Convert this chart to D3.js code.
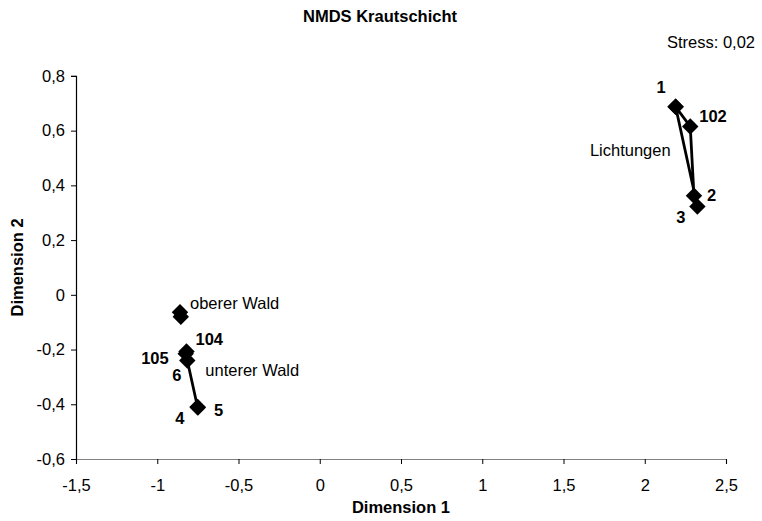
<!DOCTYPE html>
<html>
<head>
<meta charset="utf-8">
<script src="https://cdn.jsdelivr.net/npm/d3@7"></script>
<style>
  body { margin: 0; background: #fff; }
  svg text { font-family: "Liberation Sans", Arial, sans-serif; fill: #000; }
</style>
</head>
<body>
<svg id="chart" width="762" height="521"></svg>
<script>
const xTicks = [-1.5, -1, -0.5, 0, 0.5, 1, 1.5, 2, 2.5]
const yTicks = [-0.6, -0.4, -0.2, 0, 0.2, 0.4, 0.6, 0.8]

// sites per group: name, dimension 1, dimension 2 (drawn in this order, line joins them)
const lichtungenSites = ['1', '102', '2', '3', '1']
const lichtungenDim1 = [2.19, 2.28, 2.303, 2.324, 2.19]
const lichtungenDim2 = [0.687, 0.615, 0.362, 0.323, 0.687]

const obererSites = ['oben a', 'oben b']
const obererDim1 = [-0.86, -0.855]
const obererDim2 = [-0.064, -0.08]

const untererSites = ['104', '105', '6', '4', '5']
const untererDim1 = [-0.82, -0.825, -0.815, -0.752, -0.75]
const untererDim2 = [-0.207, -0.215, -0.24, -0.41, -0.412]

const groupNames = ['Lichtungen', 'oberer Wald', 'unterer Wald']

const width = 762
const height = 521
const margin = { left: 76, right: 36, top: 76, bottom: 62 }
const fontSize = '16.5px'

const svg = d3.select('#chart')

const x = d3.scaleLinear()
  .domain([-1.5, 2.5])
  .range([margin.left, width - margin.right])

const y = d3.scaleLinear()
  .domain([-0.6, 0.8])
  .range([height - margin.bottom, margin.top - 0.1])

const fmt = d => d3.format('')(d).replace('.', ',').replace('−', '-')

const xAxis = svg.append('g')
  .attr('transform', `translate(0,${y(-0.6)})`)
  .call(d3.axisBottom(x).tickValues(xTicks).tickFormat(fmt).tickSize(5).tickPadding(15))
xAxis.select('.domain').attr('stroke', '#808080').attr('stroke-width', 1.2)
xAxis.selectAll('.tick line').attr('stroke', '#000')
xAxis.selectAll('text').style('font-size', fontSize).attr('fill', '#000')

const yAxis = svg.append('g')
  .attr('transform', `translate(${x(-1.5)},0)`)
  .call(d3.axisLeft(y).tickValues(yTicks).tickFormat(fmt).tickSize(5).tickPadding(6))
yAxis.select('.domain').attr('stroke', '#000').attr('stroke-width', 1.2)
yAxis.selectAll('text').style('font-size', fontSize).attr('fill', '#000')

const groups = [
  { name: groupNames[0], sites: lichtungenSites, d1: lichtungenDim1, d2: lichtungenDim2 },
  { name: groupNames[1], sites: obererSites, d1: obererDim1, d2: obererDim2 },
  { name: groupNames[2], sites: untererSites, d1: untererDim1, d2: untererDim2 }
].map(g => ({ name: g.name, points: g.sites.map((s, i) => ({ site: s, d1: g.d1[i], d2: g.d2[i] })) }))

const line = d3.line()
  .x(d => x(d.d1))
  .y(d => y(d.d2))

svg.append('g').selectAll('path')
  .data(groups)
  .enter()
  .append('path')
  .attr('d', d => line(d.points))
  .attr('fill', 'none')
  .attr('stroke', '#000')
  .attr('stroke-width', 2.8)

const diamond = d3.symbol(d3.symbolSquare).size(135)

svg.append('g').selectAll('path')
  .data(groups.flatMap(g => g.points))
  .enter()
  .append('path')
  .attr('d', diamond)
  .attr('transform', d => `translate(${x(d.d1)},${y(d.d2)}) rotate(45)`)
  .attr('fill', '#000')

// site numbers, offset from their point
const siteLabelOffsets = {
  '1': [-10, -14, 'end'],
  '102': [9, -5, 'start'],
  '2': [13, 5, 'start'],
  '3': [-12, 17, 'end'],
  '104': [9, -6, 'start'],
  '105': [-17, 10, 'end'],
  '6': [-6, 21, 'end'],
  '5': [16, 8, 'start'],
  '4': [-13, 17, 'end']
}

const labelled = groups.flatMap(g => g.points)
  .filter((d, i, arr) => siteLabelOffsets[d.site] && arr.findIndex(e => e.site === d.site) === i)

svg.append('g').selectAll('text')
  .data(labelled)
  .enter()
  .append('text')
  .attr('x', d => x(d.d1) + siteLabelOffsets[d.site][0])
  .attr('y', d => y(d.d2) + siteLabelOffsets[d.site][1])
  .attr('text-anchor', d => siteLabelOffsets[d.site][2])
  .style('font-size', fontSize)
  .style('font-weight', 'bold')
  .text(d => d.site)

// group names, offset from an anchor point of the group
const groupLabelOffsets = [
  { point: groups[0].points[0], dx: -5, dy: 49, anchor: 'end' },
  { point: groups[1].points[0], dx: 10, dy: -3, anchor: 'start' },
  { point: groups[2].points[2], dx: 18, dy: 16, anchor: 'start' }
]

svg.append('g').selectAll('text')
  .data(groupLabelOffsets)
  .enter()
  .append('text')
  .attr('x', d => x(d.point.d1) + d.dx)
  .attr('y', d => y(d.point.d2) + d.dy)
  .attr('text-anchor', d => d.anchor)
  .style('font-size', fontSize)
  .text((d, i) => groupNames[i])

svg.append('text')
  .attr('x', 380)
  .attr('y', 22)
  .attr('text-anchor', 'middle')
  .style('font-size', fontSize)
  .style('font-weight', 'bold')
  .text('NMDS Krautschicht')

svg.append('text')
  .attr('x', 755)
  .attr('y', 48)
  .attr('text-anchor', 'end')
  .style('font-size', fontSize)
  .text('Stress: 0,02')

svg.append('text')
  .attr('x', (x(-1.5) + x(2.5)) / 2)
  .attr('y', 513)
  .attr('text-anchor', 'middle')
  .style('font-size', fontSize)
  .style('font-weight', 'bold')
  .text('Dimension 1')

svg.append('text')
  .attr('transform', `translate(23,${(y(-0.6) + y(0.8)) / 2}) rotate(-90)`)
  .attr('text-anchor', 'middle')
  .style('font-size', fontSize)
  .style('font-weight', 'bold')
  .text('Dimension 2')
</script>
</body>
</html>
